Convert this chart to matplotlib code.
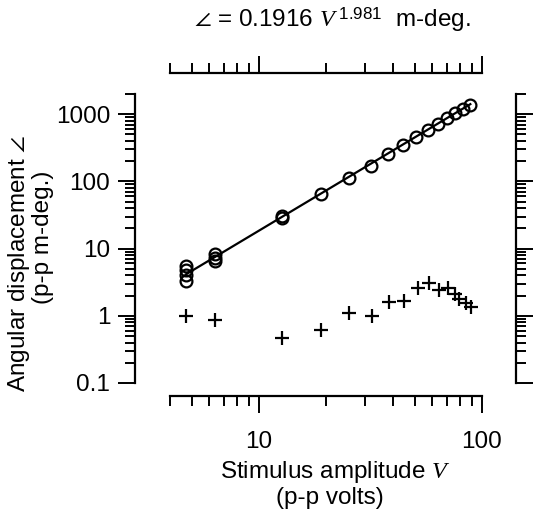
import matplotlib
matplotlib.use("Agg")
from matplotlib import pyplot as plt
from matplotlib.ticker import NullFormatter

plt.rcParams['font.family'] = ['Liberation Sans', 'DejaVu Sans']
plt.rcParams['mathtext.fontset'] = 'custom'
plt.rcParams['mathtext.rm'] = 'Liberation Sans'
plt.rcParams['mathtext.it'] = 'Liberation Serif:italic'
plt.rcParams['mathtext.fallback'] = 'stixsans'

# circles: angular displacement at each stimulus amplitude
circ_v = [4.7, 4.7, 4.7, 4.7, 6.35, 6.35, 6.35, 12.7, 12.7, 19.05, 25.4, 31.75,
          38.1, 44.45, 50.8, 57.15, 63.5, 69.85, 76.2, 82.55, 88.9]
circ_a = [5.6, 4.8, 4.1, 3.3, 8.4, 7.3, 6.5, 29, 31, 64, 112, 172,
          252, 345, 452, 575, 715, 875, 1040, 1200, 1390]

# crosses: second component
plus_v = [4.7, 6.35, 12.7, 19.1, 25.4, 32.1, 38.5, 45, 51.7, 58.3, 64.5, 70.5,
          75.6, 79.4, 85, 89.8]
plus_a = [1.0, 0.86, 0.475, 0.61, 1.09, 0.98, 1.6, 1.65, 2.62, 3.1, 2.4, 2.62,
          2.1, 1.78, 1.57, 1.34]

# fitted power law, end points (0.1916 V^1.981)
fit_v = [4.7, 88.9]
fit_a = [4.11, 1410]

x_ticks = [10, 100]
x_ticklabels = ['10', '100']
y_ticks = [0.1, 1, 10, 100, 1000]
y_ticklabels = ['0.1', '1', '10', '100', '1000']

fs = 17.5

fig = plt.figure(figsize=(5.34, 5.16), dpi=100)
ax = fig.add_axes([0.3184, 0.2578, 0.5837, 0.5601])

ax.plot(fit_v, fit_a, color='black', lw=1.6, zorder=2)
ax.plot(circ_v, circ_a, linestyle='none', marker='o', ms=8.5, mfc='none',
        mec='black', mew=1.6, zorder=3, clip_on=False)
ax.plot(plus_v, plus_a, linestyle='none', marker='+', ms=10.5, mec='black',
        mew=1.6, zorder=3, clip_on=False)

ax.set_xscale('log')
ax.set_yscale('log')
ax.set_xlim(4, 100)
ax.set_ylim(0.1, 2000)
ax.set_xticks(x_ticks, labels=x_ticklabels)
ax.set_yticks(y_ticks, labels=y_ticklabels)
ax.xaxis.set_minor_formatter(NullFormatter())
ax.yaxis.set_minor_formatter(NullFormatter())

# detached frame
ax.spines['left'].set_position(('outward', 25))
ax.spines['right'].set_position(('outward', 24.5))
ax.spines['top'].set_position(('outward', 15))
ax.spines['bottom'].set_position(('outward', 9.5))
for s in ax.spines.values():
    s.set_linewidth(1.6)

ax.tick_params(which='both', direction='out', top=True, right=True,
               labeltop=False, labelright=False, width=1.4, labelsize=fs)
ax.tick_params(which='major', length=12)
ax.tick_params(which='minor', length=7)
ax.tick_params(axis='x', which='major', pad=13)
ax.tick_params(axis='y', which='major', pad=6)

fig.text(332 / 534, 1 - 27 / 516, r'$\angle$ = 0.1916 $V^{\;1.981}$  m-deg.',
         ha='center', va='baseline', fontsize=fs)
fig.text(335 / 534, 1 - 478 / 516, r'Stimulus amplitude $V$',
         ha='center', va='baseline', fontsize=fs)
fig.text(330 / 534, 1 - 504 / 516, '(p-p volts)',
         ha='center', va='baseline', fontsize=fs)
fig.text(19 / 534, 1 - 263 / 516, r'Angular displacement $\angle$',
         ha='center', va='center', rotation=90, fontsize=fs)
fig.text(43 / 534, 1 - 237 / 516, '(p-p m-deg.)',
         ha='center', va='center', rotation=90, fontsize=fs)

plt.savefig('out.png', dpi=100)
